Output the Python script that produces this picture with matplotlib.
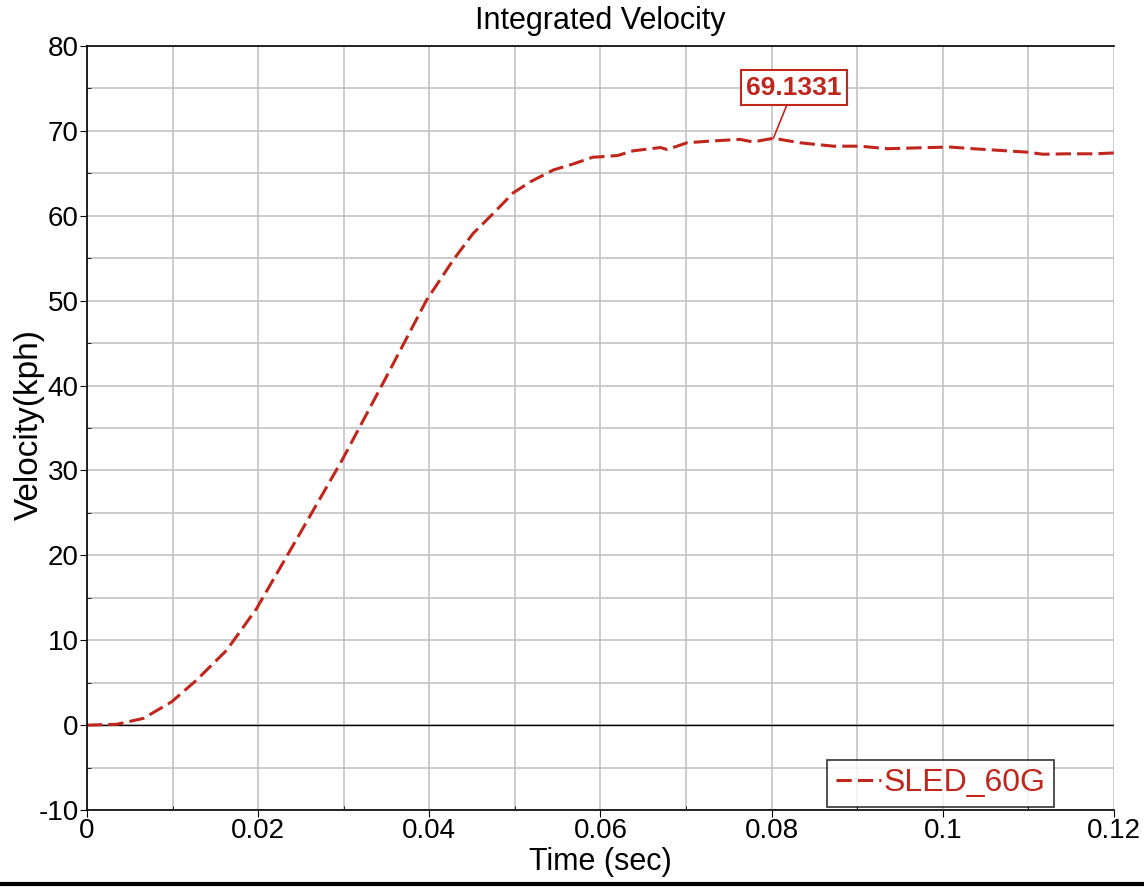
import matplotlib.pyplot as plt
from matplotlib.ticker import MultipleLocator
from matplotlib.lines import Line2D

plt.rcParams['font.family'] = ['Liberation Sans', 'DejaVu Sans']
plt.rcParams['axes.unicode_minus'] = False

# SLED_60G integrated velocity
time = [0.0, 0.0035, 0.0066, 0.0099, 0.0128, 0.0163, 0.0198, 0.0249, 0.0298,
        0.0346, 0.0397, 0.0428, 0.0451, 0.0473, 0.0498, 0.0518, 0.0545, 0.0568,
        0.0591, 0.0600, 0.0620, 0.0638, 0.0670, 0.0678, 0.0701, 0.0728, 0.0763,
        0.0778, 0.0802, 0.0833, 0.0872, 0.0903, 0.0935, 0.0970, 0.1008, 0.1035,
        0.1067, 0.1098, 0.1117, 0.1145, 0.1176, 0.1200]
velocity = [0.0, 0.1, 0.8, 2.75, 5.3, 8.8, 13.7, 22.6, 31.2,
            40.3, 50.1, 54.8, 57.9, 60.1, 62.7, 64.0, 65.4, 66.1,
            66.9, 66.95, 67.1, 67.65, 68.04, 67.8, 68.6, 68.8, 69.0,
            68.7, 69.13, 68.6, 68.2, 68.2, 67.9, 68.0, 68.1, 67.9,
            67.7, 67.5, 67.25, 67.3, 67.3, 67.4]
peak_t = 0.0802
peak_v = 69.1331
series_name = "SLED_60G"
xticks = [0, 0.02, 0.04, 0.06, 0.08, 0.1, 0.12]
xtick_labels = ["0", "0.02", "0.04", "0.06", "0.08", "0.1", "0.12"]
red = "#c0261c"

fig = plt.figure(figsize=(11.44, 8.88), dpi=100)
ax = fig.add_axes([0.076, 0.0878, 0.8978, 0.8604])

ax.plot(time, velocity, color=red, lw=2.2, dashes=(5, 2))
ax.axhline(0, color="black", lw=1, zorder=1)

ax.set_xlim(0, 0.12)
ax.set_ylim(-10, 80)
ax.set_xticks(xticks)
ax.set_xticklabels(xtick_labels)
ax.xaxis.set_minor_locator(MultipleLocator(0.01))
ax.yaxis.set_major_locator(MultipleLocator(10))
ax.yaxis.set_minor_locator(MultipleLocator(5))
ax.grid(True, which="both", color="#c4c4c4", lw=1.2, zorder=0)
ax.set_axisbelow(True)
ax.tick_params(which="major", direction="out", length=5, labelsize=20, pad=1)
ax.tick_params(which="minor", direction="in", length=3)
for side in ["top", "right"]:
    ax.spines[side].set_visible(False)
ax.spines["left"].set_linewidth(1.2)
ax.spines["bottom"].set_linewidth(1.2)
ax.plot([0, 0.12], [80, 80], color="black", lw=1.2, clip_on=False)

ax.set_title("Integrated Velocity", fontsize=22, pad=12)
ax.set_xlabel("Time (sec)", fontsize=22, labelpad=2)
ax.set_ylabel("Velocity(kph)", fontsize=24)
ax.yaxis.set_label_coords(-0.041, 0.504)

ax.annotate(f"{peak_v:.4f}", xy=(peak_t, peak_v), xytext=(0.0826, 75.1),
            ha="center", va="center", fontsize=19, fontweight="bold", color=red,
            bbox=dict(boxstyle="square,pad=0.2", fc="white", ec=red, lw=1.5),
            arrowprops=dict(arrowstyle="-", color=red, lw=1.2, shrinkA=0, shrinkB=0))

handle = Line2D([], [], color=red, lw=2.2, dashes=(5, 2))
leg = ax.legend([handle], [series_name], loc="lower right",
                bbox_to_anchor=(0.942, 0.004), fontsize=23, frameon=True,
                fancybox=False, handlelength=1.4, handletextpad=0.1,
                borderpad=0.27, borderaxespad=0)
leg.get_frame().set_edgecolor("black")
leg.get_frame().set_linewidth(1.2)
for txt in leg.get_texts():
    txt.set_color(red)

fig.add_artist(Line2D([0, 1], [0.004, 0.004], color="black", lw=3))

fig.savefig("out.png", dpi=100)
